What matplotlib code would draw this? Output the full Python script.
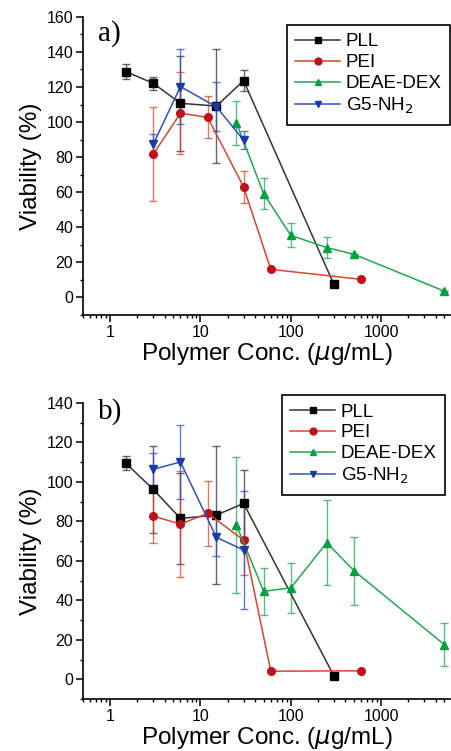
import numpy as np
import matplotlib
matplotlib.use("Agg")
import matplotlib.pyplot as plt
from matplotlib.ticker import FixedLocator, LogLocator, NullFormatter, MultipleLocator

plt.rcParams["font.family"] = ["Liberation Sans", "DejaVu Sans"]

# panel a) data
a_pll_x = [1.5, 3, 6, 15, 30, 300]
a_pll_y = [128.7, 122.1, 110.7, 109.1, 123.6, 7.4]
a_pll_e = [4.3, 3.6, 27, 32.6, 6, 0]
a_pei_x = [3, 6, 12, 30, 60, 600]
a_pei_y = [81.7, 105, 102.7, 63, 16, 10.3]
a_pei_e = [27, 23.5, 12, 9, 0, 0]
a_dex_x = [25, 50, 100, 250, 500, 5000]
a_dex_y = [99.6, 59.2, 35.4, 28.4, 24.6, 3.6]
a_dex_e = [12.6, 9, 6.9, 6, 0, 0]
a_g5_x = [3, 6, 15, 30]
a_g5_y = [87.4, 120.2, 108.7, 89.7]
a_g5_e = [6, 21.4, 14, 5]

# panel b) data
b_pll_x = [1.5, 3, 6, 15, 30, 300]
b_pll_y = [109.4, 96.2, 81.5, 83.2, 89.1, 1.7]
b_pll_e = [3.5, 22, 23, 35, 17, 0]
b_pei_x = [3, 6, 12, 30, 60, 600]
b_pei_y = [82.7, 78.6, 84.1, 70.5, 4.1, 4.3]
b_pei_e = [13.5, 26.7, 16.5, 17.5, 0, 0]
b_dex_x = [25, 50, 100, 250, 500, 5000]
b_dex_y = [78.1, 44.6, 46.3, 69.2, 55, 17.6]
b_dex_e = [34.5, 12, 12.7, 21.4, 17.3, 11]
b_g5_x = [3, 6, 15, 30]
b_g5_y = [106.4, 110.1, 71.9, 65.5]
b_g5_e = [8.4, 18.5, 9.5, 30]

labels = ["PLL", "PEI", "DEAE-DEX", "G5-NH$_2$"]
colors = ["#000000", "#c0101a", "#00a040", "#1a3aa8"]
line_colors = ["#333333", "#d9452b", "#20a84f", "#3050c0"]
markers = ["s", "o", "^", "v"]
xticks = [1, 10, 100, 1000]

fig = plt.figure(figsize=(4.51, 7.51), dpi=100)
ax_a = fig.add_axes([0.184, 0.5806, 0.814, 0.397])
ax_b = fig.add_axes([0.184, 0.0692, 0.814, 0.3942])

panels = [
    (ax_a, "a)", [(a_pll_x, a_pll_y, a_pll_e), (a_pei_x, a_pei_y, a_pei_e),
                  (a_dex_x, a_dex_y, a_dex_e), (a_g5_x, a_g5_y, a_g5_e)],
     160, 0.99, (1.0, 0.973)),
    (ax_b, "b)", [(b_pll_x, b_pll_y, b_pll_e), (b_pei_x, b_pei_y, b_pei_e),
                  (b_dex_x, b_dex_y, b_dex_e), (b_g5_x, b_g5_y, b_g5_e)],
     140, 1.015, (0.986, 1.027)),
]

for ax, tag, series, ytop, tag_y, leg_pos in panels:
    handles = []
    for (x, y, e), lab, c, lc, m in zip(series, labels, colors, line_colors, markers):
        ax.errorbar(x, y, yerr=e, fmt="none", ecolor=lc, elinewidth=1,
                    capsize=3, capthick=1, alpha=0.75, zorder=2)
        h, = ax.plot(x, y, color=lc, lw=1.1, marker=m, ms=5.5,
                     mfc=c, mec=c, label=lab, zorder=3)
        handles.append(h)
    ax.set_xscale("log")
    ax.set_xlim(0.5, 5800)
    ax.set_ylim(-10, ytop)
    ax.spines["top"].set_visible(False)
    ax.spines["right"].set_visible(False)
    ax.spines["left"].set_bounds(-10, ytop)
    ax.spines["left"].set_linewidth(1.2)
    ax.spines["bottom"].set_linewidth(1.2)
    ax.xaxis.set_major_locator(FixedLocator(xticks))
    ax.set_xticklabels([str(t) for t in xticks])
    ax.xaxis.set_minor_locator(LogLocator(base=10, subs=np.arange(2, 10)))
    ax.xaxis.set_minor_formatter(NullFormatter())
    ax.yaxis.set_major_locator(FixedLocator(np.arange(0, ytop + 1, 20)))
    ax.yaxis.set_minor_locator(MultipleLocator(10))
    ax.tick_params(which="major", direction="out", length=5, width=1.1,
                   labelsize=11.5, pad=2)
    ax.tick_params(which="minor", direction="out", length=2.5, width=1)
    ax.set_xlabel("Polymer Conc. ($\\mu$g/mL)", fontsize=17.5, labelpad=1)
    ax.set_ylabel("Viability (%)", fontsize=17.5, labelpad=3)
    ax.text(0.04, tag_y, tag, transform=ax.transAxes, fontsize=21,
            family="Liberation Serif", va="top", ha="left")
    leg = ax.legend(handles=handles, loc="upper right", bbox_to_anchor=leg_pos,
                    borderaxespad=0, fontsize=13.5, numpoints=1, markerscale=0.9,
                    handlelength=2.4, handletextpad=0.3, labelspacing=0.2,
                    borderpad=0.45, fancybox=False, edgecolor="black", framealpha=1)
    leg.get_frame().set_linewidth(1.2)

fig.savefig("out.png", dpi=100)
